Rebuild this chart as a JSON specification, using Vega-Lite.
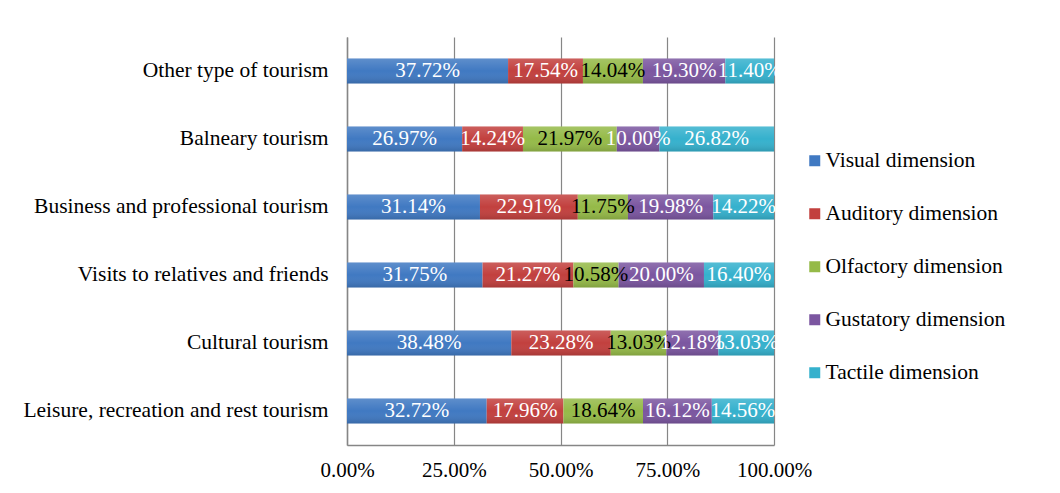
{
  "$schema": "https://vega.github.io/schema/vega-lite/v6.json",
  "width": 427,
  "height": 408,
  "autosize": {"type": "none"},
  "padding": {"left": 347, "top": 37, "right": 286, "bottom": 48},
  "background": "white",
  "config": {
    "font": "Liberation Serif",
    "view": {"stroke": null},
    "axis": {"labelFont": "Liberation Serif"},
    "legend": {"labelFont": "Liberation Serif"},
    "text": {"font": "Liberation Serif"}
  },
  "data": {
    "values": [
      {"tourism": "Other type of tourism", "dimension": "Visual dimension", "share": 0.3772},
      {"tourism": "Other type of tourism", "dimension": "Auditory dimension", "share": 0.1754},
      {"tourism": "Other type of tourism", "dimension": "Olfactory dimension", "share": 0.1404},
      {"tourism": "Other type of tourism", "dimension": "Gustatory dimension", "share": 0.1930},
      {"tourism": "Other type of tourism", "dimension": "Tactile dimension", "share": 0.1140},
      {"tourism": "Balneary tourism", "dimension": "Visual dimension", "share": 0.2697},
      {"tourism": "Balneary tourism", "dimension": "Auditory dimension", "share": 0.1424},
      {"tourism": "Balneary tourism", "dimension": "Olfactory dimension", "share": 0.2197},
      {"tourism": "Balneary tourism", "dimension": "Gustatory dimension", "share": 0.1000},
      {"tourism": "Balneary tourism", "dimension": "Tactile dimension", "share": 0.2682},
      {"tourism": "Business and professional tourism", "dimension": "Visual dimension", "share": 0.3114},
      {"tourism": "Business and professional tourism", "dimension": "Auditory dimension", "share": 0.2291},
      {"tourism": "Business and professional tourism", "dimension": "Olfactory dimension", "share": 0.1175},
      {"tourism": "Business and professional tourism", "dimension": "Gustatory dimension", "share": 0.1998},
      {"tourism": "Business and professional tourism", "dimension": "Tactile dimension", "share": 0.1422},
      {"tourism": "Visits to relatives and friends", "dimension": "Visual dimension", "share": 0.3175},
      {"tourism": "Visits to relatives and friends", "dimension": "Auditory dimension", "share": 0.2127},
      {"tourism": "Visits to relatives and friends", "dimension": "Olfactory dimension", "share": 0.1058},
      {"tourism": "Visits to relatives and friends", "dimension": "Gustatory dimension", "share": 0.2000},
      {"tourism": "Visits to relatives and friends", "dimension": "Tactile dimension", "share": 0.1640},
      {"tourism": "Cultural tourism", "dimension": "Visual dimension", "share": 0.3848},
      {"tourism": "Cultural tourism", "dimension": "Auditory dimension", "share": 0.2328},
      {"tourism": "Cultural tourism", "dimension": "Olfactory dimension", "share": 0.1303},
      {"tourism": "Cultural tourism", "dimension": "Gustatory dimension", "share": 0.1218},
      {"tourism": "Cultural tourism", "dimension": "Tactile dimension", "share": 0.1303},
      {"tourism": "Leisure, recreation and rest tourism", "dimension": "Visual dimension", "share": 0.3272},
      {"tourism": "Leisure, recreation and rest tourism", "dimension": "Auditory dimension", "share": 0.1796},
      {"tourism": "Leisure, recreation and rest tourism", "dimension": "Olfactory dimension", "share": 0.1864},
      {"tourism": "Leisure, recreation and rest tourism", "dimension": "Gustatory dimension", "share": 0.1612},
      {"tourism": "Leisure, recreation and rest tourism", "dimension": "Tactile dimension", "share": 0.1456}
    ]
  },
  "transform": [
    {"calculate": "indexof(['Visual dimension','Auditory dimension','Olfactory dimension','Gustatory dimension','Tactile dimension'], datum.dimension)", "as": "order"},
    {"stack": "share", "groupby": ["tourism"], "sort": [{"field": "order", "order": "ascending"}], "as": ["x0", "x1"]},
    {"calculate": "(datum.x0 + datum.x1) / 2", "as": "mid"}
  ],
  "encoding": {
    "y": {
      "field": "tourism",
      "type": "nominal",
      "sort": ["Other type of tourism", "Balneary tourism", "Business and professional tourism", "Visits to relatives and friends", "Cultural tourism", "Leisure, recreation and rest tourism"],
      "scale": {"paddingInner": 0.63, "paddingOuter": 0.315},
      "axis": {
        "title": null,
        "ticks": false,
        "domain": true,
        "domainColor": "#868686",
        "domainWidth": 1.5,
        "labelFont": "Liberation Serif",
        "labelFontSize": 21.5,
        "labelColor": "#000000",
        "labelPadding": 19,
        "labelLimit": 400
      }
    }
  },
  "layer": [
    {
      "mark": {"type": "bar"},
      "encoding": {
        "x": {
          "field": "x0",
          "type": "quantitative",
          "scale": {"domain": [0, 1], "nice": false},
          "axis": {
            "title": null,
            "values": [0, 0.25, 0.5, 0.75, 1],
            "format": ".2%",
            "grid": true,
            "gridColor": "#868686",
            "gridWidth": 1.2,
            "domainColor": "#868686",
            "domainWidth": 1.5,
            "ticks": false,
            "labelFont": "Liberation Serif",
            "labelFontSize": 21,
            "labelColor": "#000000",
            "labelPadding": 14,
            "labelFlush": false
          }
        },
        "x2": {"field": "x1"},
        "color": {
          "field": "dimension",
          "type": "nominal",
          "sort": ["Visual dimension", "Auditory dimension", "Olfactory dimension", "Gustatory dimension", "Tactile dimension"],
          "scale": {
            "domain": ["Visual dimension", "Auditory dimension", "Olfactory dimension", "Gustatory dimension", "Tactile dimension"],
            "range": ["#4079c2", "#c2403e", "#95ba48", "#7b56a0", "#35b1cd"]
          },
          "legend": {
            "title": null,
            "orient": "none",
            "legendX": 457,
            "legendY": 113,
            "padding": 0,
            "symbolType": "square",
            "symbolSize": 121,
            "symbolStrokeWidth": 0,
            "labelFont": "Liberation Serif",
            "labelFontSize": 21.5,
            "labelColor": "#000000",
            "labelOffset": 0,
            "rowPadding": 30,
            "labelLimit": 300
          }
        }
      }
    },
    {
      "mark": {
        "type": "bar",
        "color": {
          "gradient": "linear",
          "x1": 0, "y1": 0, "x2": 0, "y2": 1,
          "stops": [
            {"offset": 0, "color": "rgba(255,255,255,0.16)"},
            {"offset": 0.5, "color": "rgba(255,255,255,0)"},
            {"offset": 1, "color": "rgba(0,0,0,0.14)"}
          ]
        }
      },
      "encoding": {
        "x": {"field": "x0", "type": "quantitative"},
        "x2": {"field": "x1"}
      }
    },
    {
      "mark": {"type": "text", "font": "Liberation Serif", "fontSize": 21, "baseline": "middle", "align": "center"},
      "encoding": {
        "x": {"field": "mid", "type": "quantitative"},
        "text": {"field": "share", "type": "quantitative", "format": ".2%"},
        "color": {
          "condition": {"test": "datum.dimension === 'Olfactory dimension'", "value": "#000000"},
          "value": "#ffffff"
        }
      }
    }
  ]
}
